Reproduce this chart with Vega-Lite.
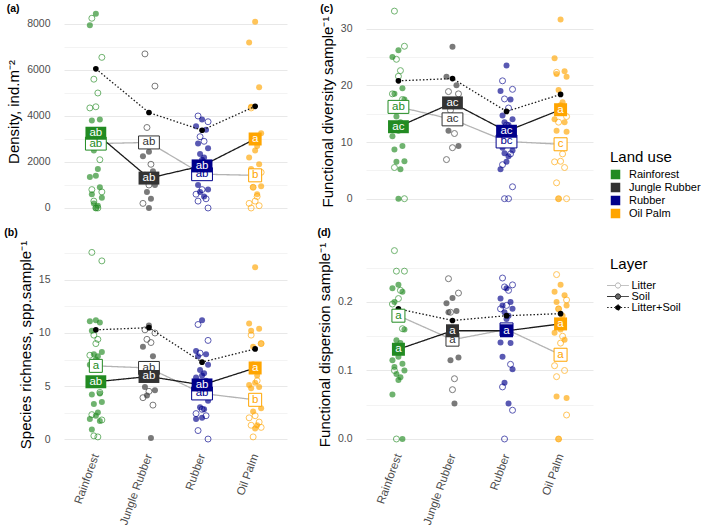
{
"$schema":"https://vega.github.io/schema/vega-lite/v6.json",
"background":"white",
"padding":{"left":4,"top":3,"right":0,"bottom":0},
"columns":2,
"spacing":{"row":9,"column":30},
"resolve":{"scale":{"y":"independent","x":"independent","xOffset":"independent"}},
"datasets":{
"pts":[
{"p":"a","u":"Rainforest","l":"Soil","v":8450,"r":3},{"p":"a","u":"Rainforest","l":"Soil","v":7950,"r":0},{"p":"a","u":"Rainforest","l":"Soil","v":3850,"r":5},{"p":"a","u":"Rainforest","l":"Soil","v":3800,"r":1},{"p":"a","u":"Rainforest","l":"Soil","v":3300,"r":6},{"p":"a","u":"Rainforest","l":"Soil","v":2500,"r":2},{"p":"a","u":"Rainforest","l":"Soil","v":1700,"r":4},{"p":"a","u":"Rainforest","l":"Soil","v":1400,"r":3},{"p":"a","u":"Rainforest","l":"Soil","v":1350,"r":0},{"p":"a","u":"Rainforest","l":"Soil","v":900,"r":5},{"p":"a","u":"Rainforest","l":"Soil","v":600,"r":1},{"p":"a","u":"Rainforest","l":"Soil","v":450,"r":6},{"p":"a","u":"Rainforest","l":"Soil","v":200,"r":2},{"p":"a","u":"Rainforest","l":"Soil","v":100,"r":4},{"p":"a","u":"Rainforest","l":"Soil","v":0,"r":3},
{"p":"a","u":"Rainforest","l":"Litter","v":8250,"r":1},{"p":"a","u":"Rainforest","l":"Litter","v":6550,"r":6},{"p":"a","u":"Rainforest","l":"Litter","v":5600,"r":2},{"p":"a","u":"Rainforest","l":"Litter","v":5000,"r":4},{"p":"a","u":"Rainforest","l":"Litter","v":4400,"r":3},{"p":"a","u":"Rainforest","l":"Litter","v":4350,"r":0},{"p":"a","u":"Rainforest","l":"Litter","v":2100,"r":5},{"p":"a","u":"Rainforest","l":"Litter","v":800,"r":1},{"p":"a","u":"Rainforest","l":"Litter","v":700,"r":6},{"p":"a","u":"Rainforest","l":"Litter","v":300,"r":2},{"p":"a","u":"Rainforest","l":"Litter","v":0,"r":4},{"p":"a","u":"Rainforest","l":"Litter","v":0,"r":3},
{"p":"a","u":"Jungle Rubber","l":"Soil","v":2450,"r":3},{"p":"a","u":"Jungle Rubber","l":"Soil","v":2250,"r":0},{"p":"a","u":"Jungle Rubber","l":"Soil","v":1600,"r":5},{"p":"a","u":"Jungle Rubber","l":"Soil","v":1450,"r":1},{"p":"a","u":"Jungle Rubber","l":"Soil","v":1000,"r":6},{"p":"a","u":"Jungle Rubber","l":"Soil","v":700,"r":2},{"p":"a","u":"Jungle Rubber","l":"Soil","v":400,"r":4},{"p":"a","u":"Jungle Rubber","l":"Soil","v":0,"r":3},
{"p":"a","u":"Jungle Rubber","l":"Litter","v":6700,"r":1},{"p":"a","u":"Jungle Rubber","l":"Litter","v":5300,"r":6},{"p":"a","u":"Jungle Rubber","l":"Litter","v":3500,"r":2},{"p":"a","u":"Jungle Rubber","l":"Litter","v":1900,"r":4},{"p":"a","u":"Jungle Rubber","l":"Litter","v":1000,"r":3},{"p":"a","u":"Jungle Rubber","l":"Litter","v":200,"r":0},
{"p":"a","u":"Rubber","l":"Soil","v":3850,"r":3},{"p":"a","u":"Rubber","l":"Soil","v":3550,"r":0},{"p":"a","u":"Rubber","l":"Soil","v":3400,"r":5},{"p":"a","u":"Rubber","l":"Soil","v":2800,"r":1},{"p":"a","u":"Rubber","l":"Soil","v":2600,"r":6},{"p":"a","u":"Rubber","l":"Soil","v":2350,"r":2},{"p":"a","u":"Rubber","l":"Soil","v":2200,"r":4},{"p":"a","u":"Rubber","l":"Soil","v":2100,"r":3},{"p":"a","u":"Rubber","l":"Soil","v":1800,"r":0},{"p":"a","u":"Rubber","l":"Soil","v":1600,"r":5},{"p":"a","u":"Rubber","l":"Soil","v":1000,"r":1},{"p":"a","u":"Rubber","l":"Soil","v":800,"r":6},{"p":"a","u":"Rubber","l":"Soil","v":700,"r":2},{"p":"a","u":"Rubber","l":"Soil","v":500,"r":4},
{"p":"a","u":"Rubber","l":"Litter","v":4000,"r":1},{"p":"a","u":"Rubber","l":"Litter","v":3750,"r":6},{"p":"a","u":"Rubber","l":"Litter","v":3100,"r":2},{"p":"a","u":"Rubber","l":"Litter","v":2900,"r":4},{"p":"a","u":"Rubber","l":"Litter","v":800,"r":3},{"p":"a","u":"Rubber","l":"Litter","v":600,"r":0},{"p":"a","u":"Rubber","l":"Litter","v":400,"r":5},{"p":"a","u":"Rubber","l":"Litter","v":300,"r":1},{"p":"a","u":"Rubber","l":"Litter","v":0,"r":6},
{"p":"a","u":"Oil Palm","l":"Soil","v":8100,"r":3},{"p":"a","u":"Oil Palm","l":"Soil","v":7200,"r":0},{"p":"a","u":"Oil Palm","l":"Soil","v":5250,"r":5},{"p":"a","u":"Oil Palm","l":"Soil","v":4400,"r":1},{"p":"a","u":"Oil Palm","l":"Soil","v":3250,"r":6},{"p":"a","u":"Oil Palm","l":"Soil","v":3100,"r":2},{"p":"a","u":"Oil Palm","l":"Soil","v":2700,"r":4},{"p":"a","u":"Oil Palm","l":"Soil","v":2500,"r":3},{"p":"a","u":"Oil Palm","l":"Soil","v":2200,"r":0},{"p":"a","u":"Oil Palm","l":"Soil","v":1900,"r":5},{"p":"a","u":"Oil Palm","l":"Soil","v":1700,"r":1},{"p":"a","u":"Oil Palm","l":"Soil","v":950,"r":6},{"p":"a","u":"Oil Palm","l":"Soil","v":900,"r":2},{"p":"a","u":"Oil Palm","l":"Soil","v":600,"r":4},
{"p":"a","u":"Oil Palm","l":"Litter","v":4350,"r":1},{"p":"a","u":"Oil Palm","l":"Litter","v":1550,"r":6},{"p":"a","u":"Oil Palm","l":"Litter","v":900,"r":2},{"p":"a","u":"Oil Palm","l":"Litter","v":500,"r":4},{"p":"a","u":"Oil Palm","l":"Litter","v":300,"r":3},{"p":"a","u":"Oil Palm","l":"Litter","v":200,"r":0},{"p":"a","u":"Oil Palm","l":"Litter","v":100,"r":5},{"p":"a","u":"Oil Palm","l":"Litter","v":0,"r":1},

{"p":"c","u":"Rainforest","l":"Soil","v":26.2,"r":3},{"p":"c","u":"Rainforest","l":"Soil","v":25,"r":0},{"p":"c","u":"Rainforest","l":"Soil","v":19.5,"r":5},{"p":"c","u":"Rainforest","l":"Soil","v":18.5,"r":1},{"p":"c","u":"Rainforest","l":"Soil","v":17.5,"r":6},{"p":"c","u":"Rainforest","l":"Soil","v":14.5,"r":2},{"p":"c","u":"Rainforest","l":"Soil","v":13.5,"r":4},{"p":"c","u":"Rainforest","l":"Soil","v":12,"r":3},{"p":"c","u":"Rainforest","l":"Soil","v":11,"r":0},{"p":"c","u":"Rainforest","l":"Soil","v":9.3,"r":5},{"p":"c","u":"Rainforest","l":"Soil","v":8.7,"r":1},{"p":"c","u":"Rainforest","l":"Soil","v":6.6,"r":6},{"p":"c","u":"Rainforest","l":"Soil","v":6.5,"r":2},{"p":"c","u":"Rainforest","l":"Soil","v":5.2,"r":4},{"p":"c","u":"Rainforest","l":"Soil","v":0,"r":3},
{"p":"c","u":"Rainforest","l":"Litter","v":33.1,"r":1},{"p":"c","u":"Rainforest","l":"Litter","v":26.9,"r":6},{"p":"c","u":"Rainforest","l":"Litter","v":24.6,"r":2},{"p":"c","u":"Rainforest","l":"Litter","v":22.6,"r":4},{"p":"c","u":"Rainforest","l":"Litter","v":21.6,"r":3},{"p":"c","u":"Rainforest","l":"Litter","v":18.5,"r":0},{"p":"c","u":"Rainforest","l":"Litter","v":17.5,"r":5},{"p":"c","u":"Rainforest","l":"Litter","v":5.5,"r":1},{"p":"c","u":"Rainforest","l":"Litter","v":0,"r":6},
{"p":"c","u":"Jungle Rubber","l":"Soil","v":26.8,"r":3},{"p":"c","u":"Jungle Rubber","l":"Soil","v":21.5,"r":0},{"p":"c","u":"Jungle Rubber","l":"Soil","v":20,"r":5},{"p":"c","u":"Jungle Rubber","l":"Soil","v":12,"r":1},{"p":"c","u":"Jungle Rubber","l":"Soil","v":9.3,"r":6},
{"p":"c","u":"Jungle Rubber","l":"Litter","v":18.9,"r":1},{"p":"c","u":"Jungle Rubber","l":"Litter","v":18.5,"r":6},{"p":"c","u":"Jungle Rubber","l":"Litter","v":15.6,"r":2},{"p":"c","u":"Jungle Rubber","l":"Litter","v":11.5,"r":4},{"p":"c","u":"Jungle Rubber","l":"Litter","v":9,"r":3},{"p":"c","u":"Jungle Rubber","l":"Litter","v":6.9,"r":0},
{"p":"c","u":"Rubber","l":"Soil","v":23.5,"r":3},{"p":"c","u":"Rubber","l":"Soil","v":19,"r":0},{"p":"c","u":"Rubber","l":"Soil","v":17.5,"r":5},{"p":"c","u":"Rubber","l":"Soil","v":14.7,"r":1},{"p":"c","u":"Rubber","l":"Soil","v":14,"r":6},{"p":"c","u":"Rubber","l":"Soil","v":13.5,"r":2},{"p":"c","u":"Rubber","l":"Soil","v":13,"r":4},{"p":"c","u":"Rubber","l":"Soil","v":12,"r":3},{"p":"c","u":"Rubber","l":"Soil","v":11.5,"r":0},{"p":"c","u":"Rubber","l":"Soil","v":10.5,"r":5},{"p":"c","u":"Rubber","l":"Soil","v":9,"r":1},{"p":"c","u":"Rubber","l":"Soil","v":8.5,"r":6},{"p":"c","u":"Rubber","l":"Soil","v":8,"r":2},{"p":"c","u":"Rubber","l":"Soil","v":7.5,"r":4},{"p":"c","u":"Rubber","l":"Soil","v":6.5,"r":3},{"p":"c","u":"Rubber","l":"Soil","v":5.2,"r":0},
{"p":"c","u":"Rubber","l":"Litter","v":20.8,"r":1},{"p":"c","u":"Rubber","l":"Litter","v":19.3,"r":6},{"p":"c","u":"Rubber","l":"Litter","v":17.6,"r":2},{"p":"c","u":"Rubber","l":"Litter","v":16,"r":4},{"p":"c","u":"Rubber","l":"Litter","v":13,"r":3},{"p":"c","u":"Rubber","l":"Litter","v":11,"r":0},{"p":"c","u":"Rubber","l":"Litter","v":7.9,"r":5},{"p":"c","u":"Rubber","l":"Litter","v":6,"r":1},{"p":"c","u":"Rubber","l":"Litter","v":2.1,"r":6},{"p":"c","u":"Rubber","l":"Litter","v":0,"r":2},{"p":"c","u":"Rubber","l":"Litter","v":0,"r":4},
{"p":"c","u":"Oil Palm","l":"Soil","v":31.6,"r":3},{"p":"c","u":"Oil Palm","l":"Soil","v":24.8,"r":0},{"p":"c","u":"Oil Palm","l":"Soil","v":22.5,"r":5},{"p":"c","u":"Oil Palm","l":"Soil","v":22,"r":1},{"p":"c","u":"Oil Palm","l":"Soil","v":21.5,"r":6},{"p":"c","u":"Oil Palm","l":"Soil","v":19.2,"r":2},{"p":"c","u":"Oil Palm","l":"Soil","v":17,"r":4},{"p":"c","u":"Oil Palm","l":"Soil","v":16.5,"r":3},{"p":"c","u":"Oil Palm","l":"Soil","v":14,"r":0},{"p":"c","u":"Oil Palm","l":"Soil","v":13.5,"r":5},{"p":"c","u":"Oil Palm","l":"Soil","v":12,"r":1},{"p":"c","u":"Oil Palm","l":"Soil","v":11.8,"r":6},{"p":"c","u":"Oil Palm","l":"Soil","v":0,"r":2},
{"p":"c","u":"Oil Palm","l":"Litter","v":22.3,"r":1},{"p":"c","u":"Oil Palm","l":"Litter","v":14.5,"r":6},{"p":"c","u":"Oil Palm","l":"Litter","v":13.5,"r":2},{"p":"c","u":"Oil Palm","l":"Litter","v":7.9,"r":4},{"p":"c","u":"Oil Palm","l":"Litter","v":6.6,"r":3},{"p":"c","u":"Oil Palm","l":"Litter","v":6.5,"r":0},{"p":"c","u":"Oil Palm","l":"Litter","v":5.5,"r":5},{"p":"c","u":"Oil Palm","l":"Litter","v":2.8,"r":1},{"p":"c","u":"Oil Palm","l":"Litter","v":0,"r":6},{"p":"c","u":"Oil Palm","l":"Litter","v":0,"r":2},

{"p":"b","u":"Rainforest","l":"Soil","v":11.2,"r":3},{"p":"b","u":"Rainforest","l":"Soil","v":11.1,"r":0},{"p":"b","u":"Rainforest","l":"Soil","v":11,"r":5},{"p":"b","u":"Rainforest","l":"Soil","v":10.2,"r":1},{"p":"b","u":"Rainforest","l":"Soil","v":8.2,"r":6},{"p":"b","u":"Rainforest","l":"Soil","v":8,"r":2},{"p":"b","u":"Rainforest","l":"Soil","v":7.8,"r":4},{"p":"b","u":"Rainforest","l":"Soil","v":7.5,"r":3},{"p":"b","u":"Rainforest","l":"Soil","v":7,"r":0},{"p":"b","u":"Rainforest","l":"Soil","v":4.3,"r":5},{"p":"b","u":"Rainforest","l":"Soil","v":4.2,"r":1},{"p":"b","u":"Rainforest","l":"Soil","v":3.5,"r":6},{"p":"b","u":"Rainforest","l":"Soil","v":3.3,"r":2},{"p":"b","u":"Rainforest","l":"Soil","v":2.5,"r":4},{"p":"b","u":"Rainforest","l":"Soil","v":2.2,"r":3},{"p":"b","u":"Rainforest","l":"Soil","v":1.9,"r":0},{"p":"b","u":"Rainforest","l":"Soil","v":1.7,"r":5},{"p":"b","u":"Rainforest","l":"Soil","v":0.9,"r":1},
{"p":"b","u":"Rainforest","l":"Litter","v":17.6,"r":1},{"p":"b","u":"Rainforest","l":"Litter","v":16.8,"r":6},{"p":"b","u":"Rainforest","l":"Litter","v":9.8,"r":2},{"p":"b","u":"Rainforest","l":"Litter","v":9.4,"r":4},{"p":"b","u":"Rainforest","l":"Litter","v":9,"r":3},{"p":"b","u":"Rainforest","l":"Litter","v":7.9,"r":0},{"p":"b","u":"Rainforest","l":"Litter","v":4.4,"r":5},{"p":"b","u":"Rainforest","l":"Litter","v":2.3,"r":1},{"p":"b","u":"Rainforest","l":"Litter","v":1.8,"r":6},{"p":"b","u":"Rainforest","l":"Litter","v":0.3,"r":2},{"p":"b","u":"Rainforest","l":"Litter","v":0.2,"r":4},
{"p":"b","u":"Jungle Rubber","l":"Soil","v":10.7,"r":3},{"p":"b","u":"Jungle Rubber","l":"Soil","v":8.7,"r":0},{"p":"b","u":"Jungle Rubber","l":"Soil","v":7.8,"r":5},{"p":"b","u":"Jungle Rubber","l":"Soil","v":4.9,"r":1},{"p":"b","u":"Jungle Rubber","l":"Soil","v":4.6,"r":6},{"p":"b","u":"Jungle Rubber","l":"Soil","v":4.1,"r":2},{"p":"b","u":"Jungle Rubber","l":"Soil","v":0.1,"r":4},
{"p":"b","u":"Jungle Rubber","l":"Litter","v":10.3,"r":1},{"p":"b","u":"Jungle Rubber","l":"Litter","v":10,"r":6},{"p":"b","u":"Jungle Rubber","l":"Litter","v":9.4,"r":2},{"p":"b","u":"Jungle Rubber","l":"Litter","v":9.1,"r":4},{"p":"b","u":"Jungle Rubber","l":"Litter","v":4.5,"r":3},{"p":"b","u":"Jungle Rubber","l":"Litter","v":3.9,"r":0},{"p":"b","u":"Jungle Rubber","l":"Litter","v":3.2,"r":5},
{"p":"b","u":"Rubber","l":"Soil","v":11.2,"r":3},{"p":"b","u":"Rubber","l":"Soil","v":8.3,"r":0},{"p":"b","u":"Rubber","l":"Soil","v":8,"r":5},{"p":"b","u":"Rubber","l":"Soil","v":7.8,"r":1},{"p":"b","u":"Rubber","l":"Soil","v":7,"r":6},{"p":"b","u":"Rubber","l":"Soil","v":6.5,"r":2},{"p":"b","u":"Rubber","l":"Soil","v":6.2,"r":4},{"p":"b","u":"Rubber","l":"Soil","v":6,"r":3},{"p":"b","u":"Rubber","l":"Soil","v":5.8,"r":0},{"p":"b","u":"Rubber","l":"Soil","v":5.5,"r":5},{"p":"b","u":"Rubber","l":"Soil","v":4,"r":1},{"p":"b","u":"Rubber","l":"Soil","v":3.6,"r":6},{"p":"b","u":"Rubber","l":"Soil","v":3,"r":2},{"p":"b","u":"Rubber","l":"Soil","v":2.8,"r":4},{"p":"b","u":"Rubber","l":"Soil","v":2,"r":3},{"p":"b","u":"Rubber","l":"Soil","v":1.9,"r":0},
{"p":"b","u":"Rubber","l":"Litter","v":10.8,"r":1},{"p":"b","u":"Rubber","l":"Litter","v":9.3,"r":6},{"p":"b","u":"Rubber","l":"Litter","v":8.1,"r":2},{"p":"b","u":"Rubber","l":"Litter","v":4.3,"r":4},{"p":"b","u":"Rubber","l":"Litter","v":2.8,"r":3},{"p":"b","u":"Rubber","l":"Litter","v":2.4,"r":0},{"p":"b","u":"Rubber","l":"Litter","v":2.2,"r":5},{"p":"b","u":"Rubber","l":"Litter","v":0.8,"r":1},{"p":"b","u":"Rubber","l":"Litter","v":0,"r":6},
{"p":"b","u":"Oil Palm","l":"Soil","v":16.2,"r":3},{"p":"b","u":"Oil Palm","l":"Soil","v":10.9,"r":0},{"p":"b","u":"Oil Palm","l":"Soil","v":10.4,"r":5},{"p":"b","u":"Oil Palm","l":"Soil","v":10.2,"r":1},{"p":"b","u":"Oil Palm","l":"Soil","v":9,"r":6},{"p":"b","u":"Oil Palm","l":"Soil","v":8.7,"r":2},{"p":"b","u":"Oil Palm","l":"Soil","v":6,"r":4},{"p":"b","u":"Oil Palm","l":"Soil","v":5.3,"r":3},{"p":"b","u":"Oil Palm","l":"Soil","v":5.1,"r":0},{"p":"b","u":"Oil Palm","l":"Soil","v":4.9,"r":5},{"p":"b","u":"Oil Palm","l":"Soil","v":4.8,"r":1},{"p":"b","u":"Oil Palm","l":"Soil","v":2.9,"r":6},{"p":"b","u":"Oil Palm","l":"Soil","v":2.6,"r":2},{"p":"b","u":"Oil Palm","l":"Soil","v":1.3,"r":4},{"p":"b","u":"Oil Palm","l":"Soil","v":1,"r":3},
{"p":"b","u":"Oil Palm","l":"Litter","v":9.8,"r":1},{"p":"b","u":"Oil Palm","l":"Litter","v":9,"r":6},{"p":"b","u":"Oil Palm","l":"Litter","v":7,"r":2},{"p":"b","u":"Oil Palm","l":"Litter","v":5.5,"r":4},{"p":"b","u":"Oil Palm","l":"Litter","v":2.2,"r":3},{"p":"b","u":"Oil Palm","l":"Litter","v":2,"r":0},{"p":"b","u":"Oil Palm","l":"Litter","v":1.6,"r":5},{"p":"b","u":"Oil Palm","l":"Litter","v":1.3,"r":1},{"p":"b","u":"Oil Palm","l":"Litter","v":1.1,"r":6},{"p":"b","u":"Oil Palm","l":"Litter","v":0.2,"r":2},

{"p":"d","u":"Rainforest","l":"Soil","v":0.225,"r":3},{"p":"d","u":"Rainforest","l":"Soil","v":0.22,"r":0},{"p":"d","u":"Rainforest","l":"Soil","v":0.215,"r":5},{"p":"d","u":"Rainforest","l":"Soil","v":0.2,"r":1},{"p":"d","u":"Rainforest","l":"Soil","v":0.16,"r":6},{"p":"d","u":"Rainforest","l":"Soil","v":0.144,"r":2},{"p":"d","u":"Rainforest","l":"Soil","v":0.14,"r":4},{"p":"d","u":"Rainforest","l":"Soil","v":0.12,"r":3},{"p":"d","u":"Rainforest","l":"Soil","v":0.115,"r":0},{"p":"d","u":"Rainforest","l":"Soil","v":0.11,"r":5},{"p":"d","u":"Rainforest","l":"Soil","v":0.105,"r":1},{"p":"d","u":"Rainforest","l":"Soil","v":0.1,"r":6},{"p":"d","u":"Rainforest","l":"Soil","v":0.095,"r":2},{"p":"d","u":"Rainforest","l":"Soil","v":0.09,"r":4},{"p":"d","u":"Rainforest","l":"Soil","v":0.086,"r":3},{"p":"d","u":"Rainforest","l":"Soil","v":0.065,"r":0},{"p":"d","u":"Rainforest","l":"Soil","v":0,"r":5},
{"p":"d","u":"Rainforest","l":"Litter","v":0.275,"r":1},{"p":"d","u":"Rainforest","l":"Litter","v":0.245,"r":6},{"p":"d","u":"Rainforest","l":"Litter","v":0.245,"r":2},{"p":"d","u":"Rainforest","l":"Litter","v":0.217,"r":4},{"p":"d","u":"Rainforest","l":"Litter","v":0.205,"r":3},{"p":"d","u":"Rainforest","l":"Litter","v":0.197,"r":0},{"p":"d","u":"Rainforest","l":"Litter","v":0.161,"r":5},{"p":"d","u":"Rainforest","l":"Litter","v":0.1,"r":1},{"p":"d","u":"Rainforest","l":"Litter","v":0,"r":2},
{"p":"d","u":"Jungle Rubber","l":"Soil","v":0.206,"r":3},{"p":"d","u":"Jungle Rubber","l":"Soil","v":0.198,"r":0},{"p":"d","u":"Jungle Rubber","l":"Soil","v":0.187,"r":5},{"p":"d","u":"Jungle Rubber","l":"Soil","v":0.185,"r":1},{"p":"d","u":"Jungle Rubber","l":"Soil","v":0.119,"r":6},{"p":"d","u":"Jungle Rubber","l":"Soil","v":0.115,"r":2},{"p":"d","u":"Jungle Rubber","l":"Soil","v":0.052,"r":4},
{"p":"d","u":"Jungle Rubber","l":"Litter","v":0.234,"r":1},{"p":"d","u":"Jungle Rubber","l":"Litter","v":0.213,"r":6},{"p":"d","u":"Jungle Rubber","l":"Litter","v":0.185,"r":2},{"p":"d","u":"Jungle Rubber","l":"Litter","v":0.088,"r":4},{"p":"d","u":"Jungle Rubber","l":"Litter","v":0.072,"r":3},
{"p":"d","u":"Rubber","l":"Soil","v":0.22,"r":3},{"p":"d","u":"Rubber","l":"Soil","v":0.205,"r":0},{"p":"d","u":"Rubber","l":"Soil","v":0.2,"r":5},{"p":"d","u":"Rubber","l":"Soil","v":0.195,"r":1},{"p":"d","u":"Rubber","l":"Soil","v":0.19,"r":6},{"p":"d","u":"Rubber","l":"Soil","v":0.185,"r":2},{"p":"d","u":"Rubber","l":"Soil","v":0.18,"r":4},{"p":"d","u":"Rubber","l":"Soil","v":0.175,"r":3},{"p":"d","u":"Rubber","l":"Soil","v":0.141,"r":0},{"p":"d","u":"Rubber","l":"Soil","v":0.14,"r":5},{"p":"d","u":"Rubber","l":"Soil","v":0.12,"r":1},{"p":"d","u":"Rubber","l":"Soil","v":0.102,"r":6},{"p":"d","u":"Rubber","l":"Soil","v":0.082,"r":2},{"p":"d","u":"Rubber","l":"Soil","v":0.052,"r":4},
{"p":"d","u":"Rubber","l":"Litter","v":0.235,"r":1},{"p":"d","u":"Rubber","l":"Litter","v":0.225,"r":6},{"p":"d","u":"Rubber","l":"Litter","v":0.222,"r":2},{"p":"d","u":"Rubber","l":"Litter","v":0.217,"r":4},{"p":"d","u":"Rubber","l":"Litter","v":0.195,"r":3},{"p":"d","u":"Rubber","l":"Litter","v":0.19,"r":0},{"p":"d","u":"Rubber","l":"Litter","v":0.109,"r":5},{"p":"d","u":"Rubber","l":"Litter","v":0.076,"r":1},{"p":"d","u":"Rubber","l":"Litter","v":0.042,"r":6},{"p":"d","u":"Rubber","l":"Litter","v":0,"r":2},
{"p":"d","u":"Oil Palm","l":"Soil","v":0.225,"r":3},{"p":"d","u":"Oil Palm","l":"Soil","v":0.215,"r":0},{"p":"d","u":"Oil Palm","l":"Soil","v":0.21,"r":5},{"p":"d","u":"Oil Palm","l":"Soil","v":0.2,"r":1},{"p":"d","u":"Oil Palm","l":"Soil","v":0.195,"r":6},{"p":"d","u":"Oil Palm","l":"Soil","v":0.19,"r":2},{"p":"d","u":"Oil Palm","l":"Soil","v":0.18,"r":4},{"p":"d","u":"Oil Palm","l":"Soil","v":0.16,"r":3},{"p":"d","u":"Oil Palm","l":"Soil","v":0.155,"r":0},{"p":"d","u":"Oil Palm","l":"Soil","v":0.145,"r":5},{"p":"d","u":"Oil Palm","l":"Soil","v":0.062,"r":1},{"p":"d","u":"Oil Palm","l":"Soil","v":0.06,"r":6},{"p":"d","u":"Oil Palm","l":"Soil","v":0,"r":2},
{"p":"d","u":"Oil Palm","l":"Litter","v":0.24,"r":1},{"p":"d","u":"Oil Palm","l":"Litter","v":0.203,"r":6},{"p":"d","u":"Oil Palm","l":"Litter","v":0.19,"r":2},{"p":"d","u":"Oil Palm","l":"Litter","v":0.15,"r":4},{"p":"d","u":"Oil Palm","l":"Litter","v":0.14,"r":3},{"p":"d","u":"Oil Palm","l":"Litter","v":0.107,"r":0},{"p":"d","u":"Oil Palm","l":"Litter","v":0.1,"r":5},{"p":"d","u":"Oil Palm","l":"Litter","v":0.091,"r":1},{"p":"d","u":"Oil Palm","l":"Litter","v":0.035,"r":6},{"p":"d","u":"Oil Palm","l":"Litter","v":0,"r":2}
],
"means":[
{"p":"a","u":"Rainforest","l":"Litter","v":2800,"lab":"ab"},{"p":"a","u":"Jungle Rubber","l":"Litter","v":2850,"lab":"ab"},{"p":"a","u":"Rubber","l":"Litter","v":1470,"lab":"ab"},{"p":"a","u":"Oil Palm","l":"Litter","v":1420,"lab":"b"},
{"p":"a","u":"Rainforest","l":"Soil","v":3250,"lab":"ab"},{"p":"a","u":"Jungle Rubber","l":"Soil","v":1300,"lab":"ab"},{"p":"a","u":"Rubber","l":"Soil","v":1830,"lab":"ab"},{"p":"a","u":"Oil Palm","l":"Soil","v":3000,"lab":"a"},
{"p":"a","u":"Rainforest","l":"Litter+Soil","v":6050},{"p":"a","u":"Jungle Rubber","l":"Litter+Soil","v":4150},{"p":"a","u":"Rubber","l":"Litter+Soil","v":3380},{"p":"a","u":"Oil Palm","l":"Litter+Soil","v":4420},
{"p":"c","u":"Rainforest","l":"Litter","v":16.2,"lab":"ab"},{"p":"c","u":"Jungle Rubber","l":"Litter","v":14,"lab":"ac"},{"p":"c","u":"Rubber","l":"Litter","v":10.1,"lab":"bc"},{"p":"c","u":"Oil Palm","l":"Litter","v":9.6,"lab":"c"},
{"p":"c","u":"Rainforest","l":"Soil","v":12.7,"lab":"ac"},{"p":"c","u":"Jungle Rubber","l":"Soil","v":16.9,"lab":"ac"},{"p":"c","u":"Rubber","l":"Soil","v":11.9,"lab":"ac"},{"p":"c","u":"Oil Palm","l":"Soil","v":15.7,"lab":"a"},
{"p":"c","u":"Rainforest","l":"Litter+Soil","v":20.8},{"p":"c","u":"Jungle Rubber","l":"Litter+Soil","v":21.2},{"p":"c","u":"Rubber","l":"Litter+Soil","v":15.4},{"p":"c","u":"Oil Palm","l":"Litter+Soil","v":18.4},
{"p":"b","u":"Rainforest","l":"Litter","v":6.9,"lab":"a"},{"p":"b","u":"Jungle Rubber","l":"Litter","v":6.7,"lab":"ab"},{"p":"b","u":"Rubber","l":"Litter","v":4.3,"lab":"ab"},{"p":"b","u":"Oil Palm","l":"Litter","v":3.7,"lab":"b"},
{"p":"b","u":"Rainforest","l":"Soil","v":5.4,"lab":"ab"},{"p":"b","u":"Jungle Rubber","l":"Soil","v":5.9,"lab":"ab"},{"p":"b","u":"Rubber","l":"Soil","v":5.1,"lab":"ab"},{"p":"b","u":"Oil Palm","l":"Soil","v":6.7,"lab":"a"},
{"p":"b","u":"Rainforest","l":"Litter+Soil","v":10.3},{"p":"b","u":"Jungle Rubber","l":"Litter+Soil","v":10.5},{"p":"b","u":"Rubber","l":"Litter+Soil","v":7.25},{"p":"b","u":"Oil Palm","l":"Litter+Soil","v":8.5},
{"p":"d","u":"Rainforest","l":"Litter","v":0.18,"lab":"a"},{"p":"d","u":"Jungle Rubber","l":"Litter","v":0.145,"lab":"a"},{"p":"d","u":"Rubber","l":"Litter","v":0.16,"lab":"a"},{"p":"d","u":"Oil Palm","l":"Litter","v":0.123,"lab":"a"},
{"p":"d","u":"Rainforest","l":"Soil","v":0.131,"lab":"a"},{"p":"d","u":"Jungle Rubber","l":"Soil","v":0.158,"lab":"a"},{"p":"d","u":"Rubber","l":"Soil","v":0.158,"lab":"a"},{"p":"d","u":"Oil Palm","l":"Soil","v":0.168,"lab":"a"},
{"p":"d","u":"Rainforest","l":"Litter+Soil","v":0.19},{"p":"d","u":"Jungle Rubber","l":"Litter+Soil","v":0.173},{"p":"d","u":"Rubber","l":"Litter+Soil","v":0.18},{"p":"d","u":"Oil Palm","l":"Litter+Soil","v":0.183}
]
},
"concat":[
{
"width":223,"height":213,
"title":{"text":"(a)","dy":11},
"encoding":{
"x":{"field":"u","type":"nominal","scale":{"type":"point","padding":0.6,"domain":["Rainforest","Jungle Rubber","Rubber","Oil Palm"]},"axis":{"labels":false,"title":null}},
"y":{"field":"v","type":"quantitative","scale":{"domain":[-435,8826],"nice":false,"zero":false},"axis":{"title":"Density, ind.m\u207b\u00b2","values":[0,1000,2000,3000,4000,5000,6000,7000,8000],"format":"d","labelExpr":"datum.value % 2000 === 0 ? datum.label : ''","gridColor":{"condition":{"test":"datum.value % 2000 !== 0","value":"#f3f3f3"},"value":"#e8e8e8"}}}
},
"layer":[
{"data":{"name":"pts"},"transform":[{"filter":"datum.p === 'a' && datum.l === 'Litter'"}],"mark":{"type":"point","filled":false,"size":36,"strokeWidth":1,"opacity":0.65},"encoding":{"color":{"field":"u","type":"nominal","scale":{"domain":["Rainforest","Jungle Rubber","Rubber","Oil Palm"],"range":["#228B22","#333333","#00008B","#FFA500"]},"legend":{"title":"Land use","orient":"none","legendX":546,"legendY":145,"symbolType":"square","symbolSize":64,"symbolOpacity":1,"labelOffset":8,"rowPadding":-3,"titlePadding":4,"encode":{"symbols":{"update":{"fill":{"scale":"color","field":"value"},"stroke":{"value":"transparent"},"opacity":{"value":1},"size":{"value":64},"shape":{"value":"square"}}}}}},"xOffset":{"field":"r","type":"quantitative","scale":{"domain":[0,6],"range":[-6,6]}}}},
{"data":{"name":"pts"},"transform":[{"filter":"datum.p === 'a' && datum.l === 'Soil'"}],"mark":{"type":"point","filled":true,"size":36,"opacity":0.65},"encoding":{"color":{"field":"u","type":"nominal"},"xOffset":{"field":"r","type":"quantitative","scale":{"domain":[0,6],"range":[-6,6]}}}},
{"data":{"name":"means"},"transform":[{"filter":"datum.p === 'a'"}],"mark":{"type":"line","strokeWidth":1.3},"encoding":{"order":{"value":null},"stroke":{"field":"l","type":"nominal","scale":{"domain":["Litter","Soil","Litter+Soil"],"range":["#b3b3b3","#1a1a1a","#1a1a1a"]},"legend":{"title":"Layer","orient":"none","legendX":546,"legendY":252,"symbolSize":49,"symbolOffset":2.5,"labelOffset":8,"rowPadding":-2,"titlePadding":8,"encode":{"symbols":{"update":{"shape":{"value":"M-3.1,0L-0.75,0M0.75,0L3.1,0M-0.75,0A0.75,0.75,0,1,1,0.75,0A0.75,0.75,0,1,1,-0.75,0Z"},"size":{"value":49},"fill":{"signal":"datum.value === 'Litter' ? '#ffffff' : datum.value === 'Soil' ? '#666666' : '#000000'"},"stroke":{"signal":"datum.value === 'Litter' ? '#777777' : datum.value === 'Soil' ? '#444444' : '#000000'"},"strokeDash":{"signal":"datum.value === 'Litter+Soil' ? [1, 1.5] : [1, 0]"},"strokeWidth":{"value":1},"opacity":{"value":1}}}}}},"strokeDash":{"field":"l","type":"nominal","scale":{"domain":["Litter","Soil","Litter+Soil"],"range":[[1,0],[1,0],[1.5,2]]}}}},
{"data":{"name":"means"},"transform":[{"filter":"datum.p === 'a' && datum.l === 'Litter+Soil'"}],"mark":{"type":"point","filled":true,"size":32,"color":"black","opacity":1}},
{"data":{"name":"means"},"transform":[{"filter":"datum.p === 'a' && datum.l === 'Litter'"}],"mark":{"type":"point","filled":false,"fill":"white","fillOpacity":1,"strokeWidth":1,"opacity":1,"size":169},"encoding":{"color":{"field":"u","type":"nominal"},"shape":{"field":"lab","type":"nominal","scale":{"domain":["a","b","c","ab","ac","bc"],"range":["M-1,-1L1,-1L1,1L-1,1Z","M-1,-1L1,-1L1,1L-1,1Z","M-1,-1L1,-1L1,1L-1,1Z","M-1.6,-1L1.6,-1L1.6,1L-1.6,1Z","M-1.6,-1L1.6,-1L1.6,1L-1.6,1Z","M-1.6,-1L1.6,-1L1.6,1L-1.6,1Z"]},"legend":null}}},
{"data":{"name":"means"},"transform":[{"filter":"datum.p === 'a' && datum.l === 'Litter'"}],"mark":{"type":"text","fontSize":11.5},"encoding":{"text":{"field":"lab"},"color":{"field":"u","type":"nominal"}}},
{"data":{"name":"means"},"transform":[{"filter":"datum.p === 'a' && datum.l === 'Soil'"}],"mark":{"type":"point","filled":true,"strokeWidth":0,"opacity":1,"size":169},"encoding":{"color":{"field":"u","type":"nominal"},"shape":{"field":"lab","type":"nominal","legend":null}}},
{"data":{"name":"means"},"transform":[{"filter":"datum.p === 'a' && datum.l === 'Soil'"}],"mark":{"type":"text","fontSize":11.5,"color":"white"},"encoding":{"text":{"field":"lab"}}}
]
},
{
"width":227,"height":213,
"title":{"text":"(c)","dy":11},
"encoding":{
"x":{"field":"u","type":"nominal","scale":{"type":"point","padding":0.6,"domain":["Rainforest","Jungle Rubber","Rubber","Oil Palm"]},"axis":{"labels":false,"title":null}},
"y":{"field":"v","type":"quantitative","scale":{"domain":[-3.41,34.18],"nice":false,"zero":false},"axis":{"title":"Functional diversity sample\u207b\u00b9","values":[0,5,10,15,20,25,30],"format":"d","labelExpr":"datum.value % 10 === 0 ? datum.label : ''","gridColor":{"condition":{"test":"datum.value % 10 !== 0","value":"#f3f3f3"},"value":"#e8e8e8"}}}
},
"layer":[
{"data":{"name":"pts"},"transform":[{"filter":"datum.p === 'c' && datum.l === 'Litter'"}],"mark":{"type":"point","filled":false,"size":36,"strokeWidth":1,"opacity":0.65},"encoding":{"color":{"field":"u","type":"nominal"},"xOffset":{"field":"r","type":"quantitative","scale":{"domain":[0,6],"range":[-6,6]}}}},
{"data":{"name":"pts"},"transform":[{"filter":"datum.p === 'c' && datum.l === 'Soil'"}],"mark":{"type":"point","filled":true,"size":36,"opacity":0.65},"encoding":{"color":{"field":"u","type":"nominal"},"xOffset":{"field":"r","type":"quantitative","scale":{"domain":[0,6],"range":[-6,6]}}}},
{"data":{"name":"means"},"transform":[{"filter":"datum.p === 'c'"}],"mark":{"type":"line","strokeWidth":1.3},"encoding":{"order":{"value":null},"stroke":{"field":"l","type":"nominal"},"strokeDash":{"field":"l","type":"nominal"}}},
{"data":{"name":"means"},"transform":[{"filter":"datum.p === 'c' && datum.l === 'Litter+Soil'"}],"mark":{"type":"point","filled":true,"size":32,"color":"black","opacity":1}},
{"data":{"name":"means"},"transform":[{"filter":"datum.p === 'c' && datum.l === 'Litter'"}],"mark":{"type":"point","filled":false,"fill":"white","fillOpacity":1,"strokeWidth":1,"opacity":1,"size":169},"encoding":{"color":{"field":"u","type":"nominal"},"shape":{"field":"lab","type":"nominal","legend":null}}},
{"data":{"name":"means"},"transform":[{"filter":"datum.p === 'c' && datum.l === 'Litter'"}],"mark":{"type":"text","fontSize":11.5},"encoding":{"text":{"field":"lab"},"color":{"field":"u","type":"nominal"}}},
{"data":{"name":"means"},"transform":[{"filter":"datum.p === 'c' && datum.l === 'Soil'"}],"mark":{"type":"point","filled":true,"strokeWidth":0,"opacity":1,"size":169},"encoding":{"color":{"field":"u","type":"nominal"},"shape":{"field":"lab","type":"nominal","legend":null}}},
{"data":{"name":"means"},"transform":[{"filter":"datum.p === 'c' && datum.l === 'Soil'"}],"mark":{"type":"text","fontSize":11.5,"color":"white"},"encoding":{"text":{"field":"lab"}}}
]
},
{
"width":223,"height":209,
"title":{"text":"(b)","dx":-14},
"encoding":{
"x":{"field":"u","type":"nominal","scale":{"type":"point","padding":0.6,"domain":["Rainforest","Jungle Rubber","Rubber","Oil Palm"]},"axis":{"title":null}},
"y":{"field":"v","type":"quantitative","scale":{"domain":[-0.94,18.77],"nice":false,"zero":false},"axis":{"title":"Species richness, spp.sample\u207b\u00b9","values":[0,2.5,5,7.5,10,12.5,15,17.5],"format":"d","labelExpr":"datum.value % 5 === 0 ? datum.label : ''","gridColor":{"condition":{"test":"datum.value % 5 !== 0","value":"#f3f3f3"},"value":"#e8e8e8"}}}
},
"layer":[
{"data":{"name":"pts"},"transform":[{"filter":"datum.p === 'b' && datum.l === 'Litter'"}],"mark":{"type":"point","filled":false,"size":36,"strokeWidth":1,"opacity":0.65},"encoding":{"color":{"field":"u","type":"nominal"},"xOffset":{"field":"r","type":"quantitative","scale":{"domain":[0,6],"range":[-6,6]}}}},
{"data":{"name":"pts"},"transform":[{"filter":"datum.p === 'b' && datum.l === 'Soil'"}],"mark":{"type":"point","filled":true,"size":36,"opacity":0.65},"encoding":{"color":{"field":"u","type":"nominal"},"xOffset":{"field":"r","type":"quantitative","scale":{"domain":[0,6],"range":[-6,6]}}}},
{"data":{"name":"means"},"transform":[{"filter":"datum.p === 'b'"}],"mark":{"type":"line","strokeWidth":1.3},"encoding":{"order":{"value":null},"stroke":{"field":"l","type":"nominal"},"strokeDash":{"field":"l","type":"nominal"}}},
{"data":{"name":"means"},"transform":[{"filter":"datum.p === 'b' && datum.l === 'Litter+Soil'"}],"mark":{"type":"point","filled":true,"size":32,"color":"black","opacity":1}},
{"data":{"name":"means"},"transform":[{"filter":"datum.p === 'b' && datum.l === 'Litter'"}],"mark":{"type":"point","filled":false,"fill":"white","fillOpacity":1,"strokeWidth":1,"opacity":1,"size":169},"encoding":{"color":{"field":"u","type":"nominal"},"shape":{"field":"lab","type":"nominal","legend":null}}},
{"data":{"name":"means"},"transform":[{"filter":"datum.p === 'b' && datum.l === 'Litter'"}],"mark":{"type":"text","fontSize":11.5},"encoding":{"text":{"field":"lab"},"color":{"field":"u","type":"nominal"}}},
{"data":{"name":"means"},"transform":[{"filter":"datum.p === 'b' && datum.l === 'Soil'"}],"mark":{"type":"point","filled":true,"strokeWidth":0,"opacity":1,"size":169},"encoding":{"color":{"field":"u","type":"nominal"},"shape":{"field":"lab","type":"nominal","legend":null}}},
{"data":{"name":"means"},"transform":[{"filter":"datum.p === 'b' && datum.l === 'Soil'"}],"mark":{"type":"text","fontSize":11.5,"color":"white"},"encoding":{"text":{"field":"lab"}}}
]
},
{
"width":227,"height":209,
"title":{"text":"(d)"},
"encoding":{
"x":{"field":"u","type":"nominal","scale":{"type":"point","padding":0.6,"domain":["Rainforest","Jungle Rubber","Rubber","Oil Palm"]},"axis":{"title":null}},
"y":{"field":"v","type":"quantitative","scale":{"domain":[-0.0146,0.2905],"nice":false,"zero":false},"axis":{"title":"Functional dispersion sample\u207b\u00b9","values":[0,0.05,0.1,0.15,0.2,0.25],"format":".1f","labelExpr":"round(datum.value * 100) % 10 === 0 ? datum.label : ''","gridColor":{"condition":{"test":"round(datum.value * 100) % 10 !== 0","value":"#f3f3f3"},"value":"#e8e8e8"}}}
},
"layer":[
{"data":{"name":"pts"},"transform":[{"filter":"datum.p === 'd' && datum.l === 'Litter'"}],"mark":{"type":"point","filled":false,"size":36,"strokeWidth":1,"opacity":0.65},"encoding":{"color":{"field":"u","type":"nominal"},"xOffset":{"field":"r","type":"quantitative","scale":{"domain":[0,6],"range":[-6,6]}}}},
{"data":{"name":"pts"},"transform":[{"filter":"datum.p === 'd' && datum.l === 'Soil'"}],"mark":{"type":"point","filled":true,"size":36,"opacity":0.65},"encoding":{"color":{"field":"u","type":"nominal"},"xOffset":{"field":"r","type":"quantitative","scale":{"domain":[0,6],"range":[-6,6]}}}},
{"data":{"name":"means"},"transform":[{"filter":"datum.p === 'd'"}],"mark":{"type":"line","strokeWidth":1.3},"encoding":{"order":{"value":null},"stroke":{"field":"l","type":"nominal"},"strokeDash":{"field":"l","type":"nominal"}}},
{"data":{"name":"means"},"transform":[{"filter":"datum.p === 'd' && datum.l === 'Litter+Soil'"}],"mark":{"type":"point","filled":true,"size":32,"color":"black","opacity":1}},
{"data":{"name":"means"},"transform":[{"filter":"datum.p === 'd' && datum.l === 'Litter'"}],"mark":{"type":"point","filled":false,"fill":"white","fillOpacity":1,"strokeWidth":1,"opacity":1,"size":169},"encoding":{"color":{"field":"u","type":"nominal"},"shape":{"field":"lab","type":"nominal","legend":null}}},
{"data":{"name":"means"},"transform":[{"filter":"datum.p === 'd' && datum.l === 'Litter'"}],"mark":{"type":"text","fontSize":11.5},"encoding":{"text":{"field":"lab"},"color":{"field":"u","type":"nominal"}}},
{"data":{"name":"means"},"transform":[{"filter":"datum.p === 'd' && datum.l === 'Soil'"}],"mark":{"type":"point","filled":true,"strokeWidth":0,"opacity":1,"size":169},"encoding":{"color":{"field":"u","type":"nominal"},"shape":{"field":"lab","type":"nominal","legend":null}}},
{"data":{"name":"means"},"transform":[{"filter":"datum.p === 'd' && datum.l === 'Soil'"}],"mark":{"type":"text","fontSize":11.5,"color":"white"},"encoding":{"text":{"field":"lab"}}}
]
}
],
"config":{
"font":"Liberation Sans",
"view":{"stroke":null},
"axis":{"domain":false,"ticks":false,"tickSize":0,"gridColor":"#e8e8e8","gridWidth":1,"labelColor":"#4d4d4d","labelFontSize":10.5,"titleFontSize":15,"titleFontWeight":"normal","titleColor":"#000000","labelPadding":14,"titlePadding":5},
"axisX":{"labelPadding":5,"labelFontSize":11.5,"labelAngle":-70},
"legend":{"titleFontSize":15,"titleFontWeight":"normal","labelFontSize":11,"labelColor":"#000000","titleColor":"#000000","padding":0},
"title":{"fontSize":10.5,"fontWeight":"bold","anchor":"start","offset":2,"color":"#000000"}
}
}
